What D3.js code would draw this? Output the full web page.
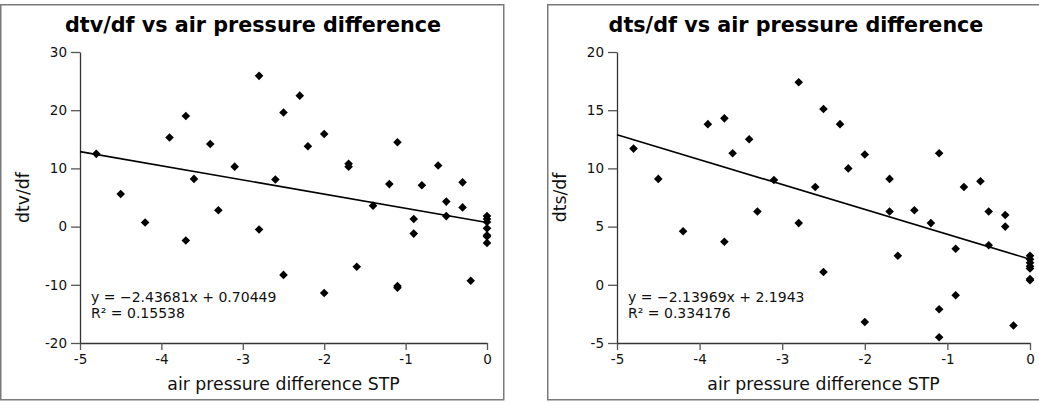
<!DOCTYPE html>
<html>
<head>
<meta charset="utf-8">
<script src="https://cdn.jsdelivr.net/npm/d3@7"></script>
<style>
  html, body { margin: 0; padding: 0; background: #fff; }
  svg { display: block; font-family: "DejaVu Sans", sans-serif; }
</style>
</head>
<body>
<svg id="chart" width="1039" height="402"></svg>
<script>
// Air pressure difference (STP) for each measurement
const pressureDiff = [
  -4.8, -4.5, -4.2, -3.9, -3.7, -3.7, -3.6, -3.4, -3.3, -3.1,
  -2.8, -2.8, -2.6, -2.5, -2.5, -2.3, -2.2, -2.0, -2.0, -1.7,
  -1.7, -1.6, -1.4, -1.2, -1.1, -1.1, -1.1, -0.9, -0.9, -0.8,
  -0.6, -0.5, -0.5, -0.3, -0.3, -0.2, 0, 0, 0, 0, 0, 0, 0
];

// dtv/df for each measurement (same order as pressureDiff)
const dtvValues = [
  12.5, 5.6, 0.7, 15.3, 19.0, -2.4, 8.2, 14.2, 2.8, 10.3,
  25.9, -0.5, 8.1, 19.6, -8.3, 22.5, 13.8, 15.9, -11.4, 10.8,
  10.3, -6.9, 3.6, 7.3, 14.5, -10.2, -10.5, 1.3, -1.2, 7.1,
  10.5, 4.3, 1.8, 7.6, 3.3, -9.3, 1.8, 1.3, 0.8, -0.3, -1.5, -1.7, -2.8
];

// dts/df for each measurement (same order as pressureDiff)
const dtsValues = [
  11.7, 9.1, 4.6, 13.8, 14.3, 3.7, 11.3, 12.5, 6.3, 9.0,
  17.4, 5.3, 8.4, 15.1, 1.1, 13.8, 10.0, 11.2, -3.2, 9.1,
  6.3, 2.5, 6.4, 5.3, 11.3, -2.1, -4.5, 3.1, -0.9, 8.4,
  8.9, 6.3, 3.4, 6.0, 5.0, -3.5, 2.5, 2.2, 1.9, 1.6, 1.4, 0.5, 0.4
];

// Linear fits: [slope, intercept, R²]
const dtvFit = [-2.43681, 0.70449, 0.15538];
const dtsFit = [-2.13969, 2.1943, 0.334176];

// Tick values and labels
const xTicks = [-5, -4, -3, -2, -1, 0];
const xTickLabels = ["-5", "-4", "-3", "-2", "-1", "0"];
const dtvTicks = [-20, -10, 0, 10, 20, 30];
const dtvTickLabels = ["-20", "-10", "0", "10", "20", "30"];
const dtsTicks = [-5, 0, 5, 10, 15, 20];
const dtsTickLabels = ["-5", "0", "5", "10", "15", "20"];

const svg = d3.select("#chart");

function panel(opts) {
  const g = svg.append("g");

  // panel frame
  g.append("rect")
    .attr("x", opts.frame[0]).attr("y", opts.frame[1])
    .attr("width", opts.frame[2]).attr("height", opts.frame[3])
    .attr("fill", "#fff").attr("stroke", "#7a7a7a").attr("stroke-width", 1.5);

  const x = d3.scaleLinear().domain([-5, 0]).range([opts.left, opts.right]);
  const y = d3.scaleLinear().domain(opts.yDomain).range([opts.bottom, opts.top]);

  // title
  g.append("text")
    .attr("x", opts.titleX).attr("y", 32)
    .attr("text-anchor", "middle")
    .attr("font-size", 20.7).attr("font-weight", "bold")
    .attr("fill", "#000")
    .text(opts.title);

  // axes
  const xAxis = d3.axisBottom(x)
    .tickValues(xTicks)
    .tickFormat((d, i) => xTickLabels[i])
    .tickSizeInner(7).tickSizeOuter(0).tickPadding(4);
  const yAxis = d3.axisLeft(y)
    .tickValues(opts.yTicks)
    .tickFormat((d, i) => opts.yTickLabels[i])
    .tickSizeInner(9).tickSizeOuter(0).tickPadding(4);

  const gx = g.append("g")
    .attr("transform", `translate(0,${opts.bottom})`)
    .call(xAxis);
  const gy = g.append("g")
    .attr("transform", `translate(${opts.left},0)`)
    .call(yAxis);

  [gx, gy].forEach(a => {
    a.select(".domain").attr("stroke", "#333").attr("stroke-width", 1.3);
    a.selectAll(".tick line").attr("stroke", "#555").attr("stroke-width", 1.3);
    a.selectAll(".tick text")
      .attr("font-family", "DejaVu Sans, sans-serif")
      .attr("font-size", 13.5).attr("fill", "#111");
  });

  // axis titles
  g.append("text")
    .attr("x", (opts.left + opts.right) / 2).attr("y", 390)
    .attr("text-anchor", "middle")
    .attr("font-size", 17.3).attr("fill", "#111")
    .text("air pressure difference STP");
  g.append("text")
    .attr("transform", `translate(${opts.left - 51},${(opts.top + opts.bottom) / 2}) rotate(-90)`)
    .attr("text-anchor", "middle")
    .attr("font-size", 17.3).attr("fill", "#111")
    .text(opts.yLabel);

  // regression line over the full x domain
  const [m, b, r2] = opts.fit;
  const fitLine = d3.line().x(d => x(d)).y(d => y(m * d + b));
  g.append("path")
    .datum([-5, 0])
    .attr("d", fitLine)
    .attr("fill", "none").attr("stroke", "#000").attr("stroke-width", 1.6);

  // data points as diamonds
  const diamond = d3.symbol().type(d3.symbolSquare).size(37);
  g.append("g").selectAll("path")
    .data(pressureDiff.map((p, i) => [p, opts.values[i]]))
    .join("path")
    .attr("d", diamond)
    .attr("transform", d => `translate(${x(d[0])},${y(d[1])}) rotate(45)`)
    .attr("fill", "#000");

  // fit equation
  const eq = g.append("text")
    .attr("font-size", 14).attr("fill", "#111");
  eq.append("tspan")
    .attr("x", opts.eqX).attr("y", 302)
    .text(`y = \u2212${Math.abs(m)}x + ${b}`);
  eq.append("tspan")
    .attr("x", opts.eqX).attr("y", 318)
    .text(`R\u00b2 = ${r2}`);
}

panel({
  frame: [0.75, 4.75, 503, 395],
  left: 80, right: 487, top: 52, bottom: 343,
  yDomain: [-20, 30], yTicks: dtvTicks, yTickLabels: dtvTickLabels,
  title: "dtv/df vs air pressure difference", titleX: 253,
  yLabel: "dtv/df", values: dtvValues, fit: dtvFit, eqX: 91
});

panel({
  frame: [547.75, 4.75, 503, 395],
  left: 617, right: 1030, top: 52, bottom: 343,
  yDomain: [-5, 20], yTicks: dtsTicks, yTickLabels: dtsTickLabels,
  title: "dts/df vs air pressure difference", titleX: 796,
  yLabel: "dts/df", values: dtsValues, fit: dtsFit, eqX: 628
});
</script>
</body>
</html>
